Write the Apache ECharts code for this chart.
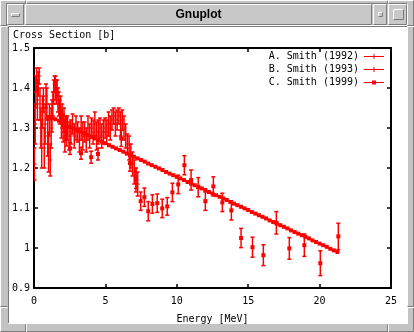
<!DOCTYPE html>
<html><head><meta charset="utf-8">
<script src="https://cdn.jsdelivr.net/npm/echarts@6/dist/echarts.min.js"></script>
<style>html,body{margin:0;padding:0;background:#c3c3c3}#c{width:414px;height:332px}</style>
</head><body><div id="c"></div>
<script>
const xTicks = [0, 5, 10, 15, 20, 25];
const yTicks = [0.9, 1.0, 1.1, 1.2, 1.3, 1.4, 1.5];
const seriesNames = ['A. Smith (1992)', 'B. Smith (1993)', 'C. Smith (1999)'];
const xTitle = 'Energy [MeV]';
const yTitle = 'Cross Section [b]';
const windowTitle = 'Gnuplot';

// A. Smith (1992)
const aX = [0.03,0.08,0.13,0.18,0.24,0.30,0.36,0.42,0.48,0.54,0.60,0.66,0.72,0.78,0.84,0.90,0.96,1.02,1.08,1.14,1.20,1.26,1.32,1.38,1.44,1.50,1.56,1.62,1.68,1.74,1.80,1.86,1.92,1.98,2.04,2.10,2.16,2.22,2.28];
const aY = [1.21,1.31,1.39,1.42,1.37,1.41,1.43,1.36,1.30,1.26,1.34,1.37,1.25,1.31,1.38,1.36,1.28,1.24,1.32,1.22,1.30,1.33,1.36,1.39,1.41,1.40,1.39,1.40,1.37,1.36,1.34,1.35,1.31,1.33,1.30,1.32,1.28,1.30,1.29];
const aErr = [0.04,0.05,0.04,0.03,0.05,0.03,0.02,0.04,0.05,0.06,0.04,0.03,0.05,0.05,0.03,0.04,0.05,0.05,0.04,0.04,0.05,0.04,0.03,0.03,0.02,0.03,0.03,0.02,0.03,0.03,0.03,0.03,0.035,0.03,0.035,0.03,0.04,0.03,0.035];

// B. Smith (1993)
const bX = [2.34,2.46,2.58,2.70,2.82,2.94,3.06,3.18,3.30,3.42,3.54,3.66,3.78,3.90,4.02,4.14,4.26,4.38,4.50,4.62,4.74,4.86,4.98,5.10,5.22,5.34,5.46,5.58,5.70,5.82,5.94,6.06,6.18,6.30,6.42,6.54,6.66,6.78,6.90,7.02,7.14,7.26];
const bY = [1.30,1.28,1.29,1.31,1.28,1.30,1.29,1.27,1.30,1.28,1.29,1.27,1.30,1.28,1.30,1.29,1.31,1.28,1.29,1.30,1.28,1.29,1.30,1.29,1.31,1.30,1.32,1.33,1.31,1.32,1.33,1.31,1.32,1.30,1.28,1.26,1.25,1.23,1.21,1.19,1.17,1.16];
const bErr = [0.03,0.035,0.03,0.025,0.03,0.03,0.025,0.03,0.03,0.035,0.025,0.03,0.03,0.03,0.025,0.03,0.03,0.035,0.03,0.025,0.03,0.03,0.025,0.03,0.03,0.03,0.025,0.02,0.03,0.025,0.02,0.03,0.025,0.03,0.03,0.025,0.03,0.03,0.03,0.03,0.03,0.03];

// C. Smith (1999) - scattered measurements
const cX = [2.52,3.29,4.00,4.48,6.11,6.72,7.14,7.47,7.73,8.00,8.29,8.63,8.98,9.33,9.69,10.10,10.53,11.00,11.50,12.00,12.56,13.19,13.82,14.50,15.30,16.06,16.97,17.88,18.93,20.05,21.31];
const cY = [1.249,1.237,1.227,1.235,1.274,1.212,1.174,1.117,1.127,1.092,1.110,1.112,1.099,1.104,1.139,1.159,1.207,1.170,1.152,1.117,1.154,1.114,1.094,1.025,1.002,0.982,1.063,0.999,1.007,0.962,1.029];
const cErr = [0.015,0.015,0.015,0.015,0.02,0.02,0.025,0.023,0.023,0.024,0.023,0.023,0.023,0.022,0.023,0.023,0.024,0.025,0.024,0.023,0.024,0.023,0.024,0.024,0.025,0.026,0.028,0.027,0.028,0.031,0.033];

// C. Smith (1999) - dense evaluated points
const cLineX = [1.00,1.25,1.50,1.75,2.00,2.25,2.50,2.75,3.00,3.25,3.50,3.75,4.00,4.25,4.50,4.75,5.00,5.25,5.50,5.75,6.00,6.25,6.50,6.75,7.00,7.25,7.50,7.75,8.00,8.25,8.50,8.75,9.00,9.25,9.50,9.75,10.00,10.25,10.50,10.75,11.00,11.25,11.50,11.75,12.00,12.25,12.50,12.75,13.00,13.25,13.50,13.75,14.00,14.25,14.50,14.75,15.00,15.25,15.50,15.75,16.00,16.25,16.50,16.75,17.00,17.25,17.50,17.75,18.00,18.25,18.50,18.75,19.00,19.25,19.50,19.75,20.00,20.25,20.50,20.75,21.00,21.25];
const cLineY = [1.328,1.325,1.322,1.318,1.313,1.308,1.303,1.299,1.295,1.291,1.287,1.282,1.278,1.274,1.270,1.266,1.262,1.257,1.253,1.249,1.245,1.241,1.236,1.232,1.228,1.224,1.220,1.216,1.211,1.207,1.203,1.199,1.195,1.190,1.186,1.182,1.178,1.174,1.170,1.165,1.161,1.157,1.153,1.149,1.145,1.140,1.136,1.132,1.128,1.124,1.120,1.115,1.111,1.107,1.103,1.099,1.095,1.090,1.086,1.082,1.078,1.074,1.069,1.065,1.061,1.057,1.053,1.049,1.044,1.040,1.036,1.032,1.028,1.024,1.019,1.015,1.011,1.007,1.003,0.998,0.994,0.990];

const RED = '#ff0000';
const MONO = '"DejaVu Sans Mono", "Liberation Mono", monospace';

function zip3(xs, ys, es) { return xs.map((x, i) => [x, ys[i], es[i]]); }

function makeRender(mark) {
  return function (params, api) {
    const x = api.value(0), y = api.value(1), e = api.value(2);
    const p = api.coord([x, y]);
    const lo = api.coord([x, y - e]);
    const hi = api.coord([x, y + e]);
    const st = { stroke: RED, lineWidth: 1.5 };
    const ch = [
      { type: 'line', shape: { x1: p[0], y1: lo[1], x2: p[0], y2: hi[1] }, style: st },
      { type: 'line', shape: { x1: p[0] - 2, y1: lo[1], x2: p[0] + 2, y2: lo[1] }, style: st },
      { type: 'line', shape: { x1: p[0] - 2, y1: hi[1], x2: p[0] + 2, y2: hi[1] }, style: st }
    ];
    if (mark === 'square') {
      ch.push({ type: 'rect', shape: { x: p[0] - 2, y: p[1] - 2, width: 4, height: 4 }, style: { fill: RED } });
    } else {
      ch.push({ type: 'line', shape: { x1: p[0] - 2, y1: p[1], x2: p[0] + 2, y2: p[1] }, style: { stroke: RED, lineWidth: 1 } });
    }
    return { type: 'group', children: ch };
  };
}

function bevel(x, y, w, h, raised, fill) {
  const lt = raised ? '#ffffff' : '#7b7b7b';
  const rb = raised ? '#7b7b7b' : '#ffffff';
  return [
    { type: 'rect', silent: true, z: -20, shape: { x: x, y: y, width: w, height: h }, style: { fill: fill } },
    { type: 'polyline', silent: true, z: -19, shape: { points: [[x + 0.5, y + h - 0.5], [x + 0.5, y + 0.5], [x + w - 0.5, y + 0.5]] }, style: { stroke: lt, lineWidth: 1, fill: null } },
    { type: 'polyline', silent: true, z: -19, shape: { points: [[x + w - 0.5, y + 0.5], [x + w - 0.5, y + h - 0.5], [x + 0.5, y + h - 0.5]] }, style: { stroke: rb, lineWidth: 1, fill: null } }
  ];
}
function notch(x1, y1, x2, y2) {
  const vertical = x1 === x2;
  return [
    { type: 'line', silent: true, z: -18, shape: { x1: x1 + 0.5, y1: y1 + 0.5, x2: x2 + 0.5, y2: y2 + 0.5 }, style: { stroke: '#7b7b7b', lineWidth: 1 } },
    { type: 'line', silent: true, z: -18, shape: { x1: x1 + (vertical ? 1.5 : 0.5), y1: y1 + (vertical ? 0.5 : 1.5), x2: x2 + (vertical ? 1.5 : 0.5), y2: y2 + (vertical ? 0.5 : 1.5) }, style: { stroke: '#ffffff', lineWidth: 1 } }
  ];
}

const chrome = [].concat(
  bevel(0, 0, 414, 332, true, '#c3c3c3'),
  notch(25, 0, 25, 3), notch(387, 0, 387, 3),
  notch(25, 324, 25, 332), notch(387, 324, 387, 332),
  notch(0, 25, 7, 25), notch(407, 25, 414, 25),
  notch(0, 306, 7, 306), notch(407, 306, 414, 306),
  bevel(6, 3, 402, 23, false, '#c3c3c3'),
  bevel(7, 4, 17, 21, true, '#c8c8c8'),
  bevel(25, 4, 347, 21, true, '#c8c8c8'),
  bevel(373, 4, 14, 21, true, '#c8c8c8'),
  bevel(388, 4, 19, 21, true, '#c8c8c8'),
  bevel(11, 13, 9, 4, true, '#c8c8c8'),
  bevel(378, 12, 5, 5, true, '#c8c8c8'),
  bevel(393, 9, 11, 11, true, '#c8c8c8'),
  bevel(8, 26, 400, 298, false, '#ffffff'),
  [{ type: 'text', silent: true, z: -10, x: 198.5, y: 15, style: { text: windowTitle, fill: '#000', font: 'bold 12px "Liberation Sans", Arial, sans-serif', align: 'center', verticalAlign: 'middle' } }]
);

const iconErr = 'path://M0,0M0,2.4h20v1.2H0zM9.5,0.5h1v5h-1zM20,6';
const iconSq = 'path://M0,0M0,2.4h20v1.2H0zM8,1h4v4H8zM20,6';

const axisCommon = {
  type: 'value',
  splitLine: { show: false },
  axisLine: { show: true, onZero: false, lineStyle: { color: '#000', width: 2 } },
  axisTick: { show: true, inside: true, length: 4, lineStyle: { color: '#000', width: 1.5 } }
};

const chart = echarts.init(document.getElementById('c'), null, { renderer: 'canvas' });
chart.setOption({
  animation: false,
  backgroundColor: '#c3c3c3',
  color: [RED, RED, RED],
  graphic: { elements: chrome },
  title: { text: yTitle, left: 13, top: 30, padding: 0, textStyle: { fontFamily: MONO, fontSize: 10, fontWeight: 'normal', color: '#000' } },
  grid: { left: 34, right: 23, top: 48, bottom: 44, containLabel: false },
  legend: {
    orient: 'vertical', right: 30, top: 51, align: 'right', padding: 0,
    itemWidth: 20, itemHeight: 6, itemGap: 2, selectedMode: false,
    textStyle: { fontFamily: MONO, fontSize: 10, color: '#000', lineHeight: 11 },
    data: [
      { name: seriesNames[0], icon: iconErr },
      { name: seriesNames[1], icon: iconErr },
      { name: seriesNames[2], icon: iconSq }
    ]
  },
  xAxis: [
    Object.assign({}, axisCommon, {
      min: xTicks[0], max: xTicks[xTicks.length - 1], interval: xTicks[1] - xTicks[0], position: 'bottom',
      axisLabel: { fontFamily: MONO, fontSize: 10, color: '#000', margin: 8 },
      name: xTitle, nameLocation: 'middle', nameGap: 26,
      nameTextStyle: { fontFamily: MONO, fontSize: 10, color: '#000' }
    }),
    Object.assign({}, axisCommon, {
      min: xTicks[0], max: xTicks[xTicks.length - 1], interval: xTicks[1] - xTicks[0], position: 'top',
      axisLabel: { show: false }
    })
  ],
  yAxis: [
    Object.assign({}, axisCommon, {
      min: yTicks[0], max: yTicks[yTicks.length - 1], interval: 0.1, position: 'left',
      axisLabel: { fontFamily: MONO, fontSize: 10, color: '#000', margin: 4, formatter: v => String(+(+v).toFixed(1)) }
    }),
    Object.assign({}, axisCommon, {
      min: yTicks[0], max: yTicks[yTicks.length - 1], interval: 0.1, position: 'right',
      axisLabel: { show: false }
    })
  ],
  series: [
    { name: seriesNames[0], type: 'custom', clip: true, renderItem: makeRender('plus'), itemStyle: { color: RED },
      dimensions: ['x', 'y', 'err'], encode: { x: 0, y: 1 }, data: zip3(aX, aY, aErr), z: 3 },
    { name: seriesNames[1], type: 'custom', clip: true, renderItem: makeRender('plus'), itemStyle: { color: RED },
      dimensions: ['x', 'y', 'err'], encode: { x: 0, y: 1 }, data: zip3(bX, bY, bErr), z: 3 },
    { name: seriesNames[2], type: 'line', data: cLineX.map((x, i) => [x, cLineY[i]]),
      symbol: 'rect', symbolSize: 4, showAllSymbol: true, itemStyle: { color: RED },
      lineStyle: { color: RED, width: 2 }, z: 4 },
    { name: seriesNames[2], type: 'custom', clip: true, renderItem: makeRender('square'), itemStyle: { color: RED },
      dimensions: ['x', 'y', 'err'], encode: { x: 0, y: 1 }, data: zip3(cX, cY, cErr), z: 4 }
  ]
});
</script>
</body></html>
